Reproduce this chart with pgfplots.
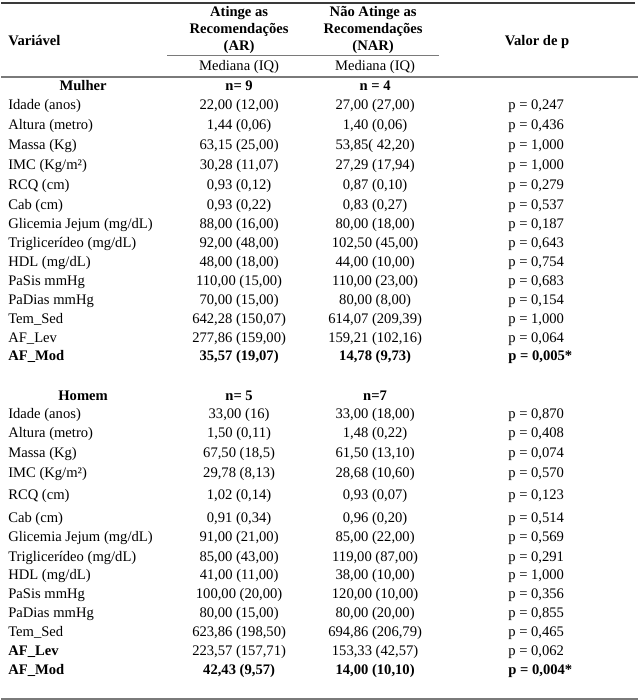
\documentclass[border=0pt]{standalone}
\usepackage{pgfplots}
\pgfplotsset{compat=1.18}
\usepackage{fontspec}
\setmainfont{Liberation Serif}
\definecolor{rulesdark}{HTML}{3A3A3A}
\definecolor{rulesmid}{HTML}{7A7A7A}
\newcommand{\tf}{\fontsize{14.6bp}{17bp}\selectfont}
\tikzset{t/.style={font=\tf, inner sep=0pt, yshift=-1.5bp}, tb/.style={font=\tf\bfseries, inner sep=0pt, yshift=-1.5bp}}
\newcommand{\row}[5]{%
  \node[t, anchor=mid west] at (axis cs:7,#1) {#2};
  \node[t, anchor=mid] at (axis cs:238,#1) {#3};
  \node[t, anchor=mid] at (axis cs:374,#1) {#4};
  \node[t, anchor=mid west] at (axis cs:507,#1) {#5};}
\begin{document}
\begin{tikzpicture}
\begin{axis}[
  width=637bp, height=700bp, scale only axis,
  xmin=0, xmax=637, ymin=0, ymax=700, y dir=reverse,
  hide axis, clip=false,
]
% rules
\addplot[draw=none] coordinates {(0,0) (637,700)};
\addplot[rulesdark, line width=2.2bp] coordinates {(0,3) (634,3)};
\addplot[rulesmid, line width=1bp] coordinates {(166,56) (438,56)};
\addplot[rulesmid, line width=1.1bp] coordinates {(0,77) (637,77)};
\addplot[rulesmid, line width=1.1bp] coordinates {(0,699) (637,699)};

% header
\node[tb, anchor=mid west] at (axis cs:7,42) {Variável};
\node[tb, anchor=mid] at (axis cs:238,13) {Atinge as};
\node[tb, anchor=mid] at (axis cs:238,30) {Recomendações};
\node[tb, anchor=mid] at (axis cs:238,47) {(AR)};
\node[tb, anchor=mid] at (axis cs:372,13) {Não Atinge as};
\node[tb, anchor=mid] at (axis cs:372,30) {Recomendações};
\node[tb, anchor=mid] at (axis cs:372,47) {(NAR)};
\node[tb, anchor=mid] at (axis cs:536,42) {Valor de p};
\node[t, anchor=mid] at (axis cs:238,67) {Mediana (IQ)};
\node[t, anchor=mid] at (axis cs:374,67) {Mediana (IQ)};

% Mulher
\node[tb, anchor=mid] at (axis cs:82,87) {Mulher};
\node[tb, anchor=mid] at (axis cs:238,87) {n= 9};
\node[tb, anchor=mid] at (axis cs:374,87) {n = 4};

\row{106}{Idade (anos)}{22,00 (12,00)}{27,00 (27,00)}{p = 0,247}
\row{126}{Altura (metro)}{1,44 (0,06)}{1,40 (0,06)}{p = 0,436}
\row{146}{Massa (Kg)}{63,15 (25,00)}{53,85( 42,20)}{p = 1,000}
\row{166}{IMC (Kg/m²)}{30,28 (11,07)}{27,29 (17,94)}{p = 1,000}
\row{186}{RCQ (cm)}{0,93 (0,12)}{0,87 (0,10)}{p = 0,279}
\row{206}{Cab (cm)}{0,93 (0,22)}{0,83 (0,27)}{p = 0,537}
\row{225}{Glicemia Jejum (mg/dL)}{88,00 (16,00)}{80,00 (18,00)}{p = 0,187}
\row{244}{Triglicerídeo (mg/dL)}{92,00 (48,00)}{102,50 (45,00)}{p = 0,643}
\row{263}{HDL (mg/dL)}{48,00 (18,00)}{44,00 (10,00)}{p = 0,754}
\row{282}{PaSis mmHg}{110,00 (15,00)}{110,00 (23,00)}{p = 0,683}
\row{301}{PaDias mmHg}{70,00 (15,00)}{80,00 (8,00)}{p = 0,154}
\row{320}{Tem\_Sed}{642,28 (150,07)}{614,07 (209,39)}{p = 1,000}
\row{339}{AF\_Lev}{277,86 (159,00)}{159,21 (102,16)}{p = 0,064}
\row{357}{\bfseries AF\_Mod}{\bfseries 35,57 (19,07)}{\bfseries 14,78 (9,73)}{\bfseries p = 0,005*}

% Homem
\node[tb, anchor=mid] at (axis cs:82,397) {Homem};
\node[tb, anchor=mid] at (axis cs:238,397) {n= 5};
\node[tb, anchor=mid] at (axis cs:374,397) {n=7};

\row{415}{Idade (anos)}{33,00 (16)}{33,00 (18,00)}{p = 0,870}
\row{434}{Altura (metro)}{1,50 (0,11)}{1,48 (0,22)}{p = 0,408}
\row{454}{Massa (Kg)}{67,50 (18,5)}{61,50 (13,10)}{p = 0,074}
\row{474}{IMC (Kg/m²)}{29,78 (8,13)}{28,68 (10,60)}{p = 0,570}
\row{496}{RCQ (cm)}{1,02 (0,14)}{0,93 (0,07)}{p = 0,123}
\row{519}{Cab (cm)}{0,91 (0,34)}{0,96 (0,20)}{p = 0,514}
\row{538}{Glicemia Jejum (mg/dL)}{91,00 (21,00)}{85,00 (22,00)}{p = 0,569}
\row{558}{Triglicerídeo (mg/dL)}{85,00 (43,00)}{119,00 (87,00)}{p = 0,291}
\row{576}{HDL (mg/dL)}{41,00 (11,00)}{38,00 (10,00)}{p = 1,000}
\row{595}{PaSis mmHg}{100,00 (20,00)}{120,00 (10,00)}{p = 0,356}
\row{614}{PaDias mmHg}{80,00 (15,00)}{80,00 (20,00)}{p = 0,855}
\row{633}{Tem\_Sed}{623,86 (198,50)}{694,86 (206,79)}{p = 0,465}
\row{652}{\bfseries AF\_Lev}{223,57 (157,71)}{153,33 (42,57)}{p = 0,062}
\row{671}{\bfseries AF\_Mod}{\bfseries 42,43 (9,57)}{\bfseries 14,00 (10,10)}{\bfseries p = 0,004*}
\end{axis}
\end{tikzpicture}
\end{document}
